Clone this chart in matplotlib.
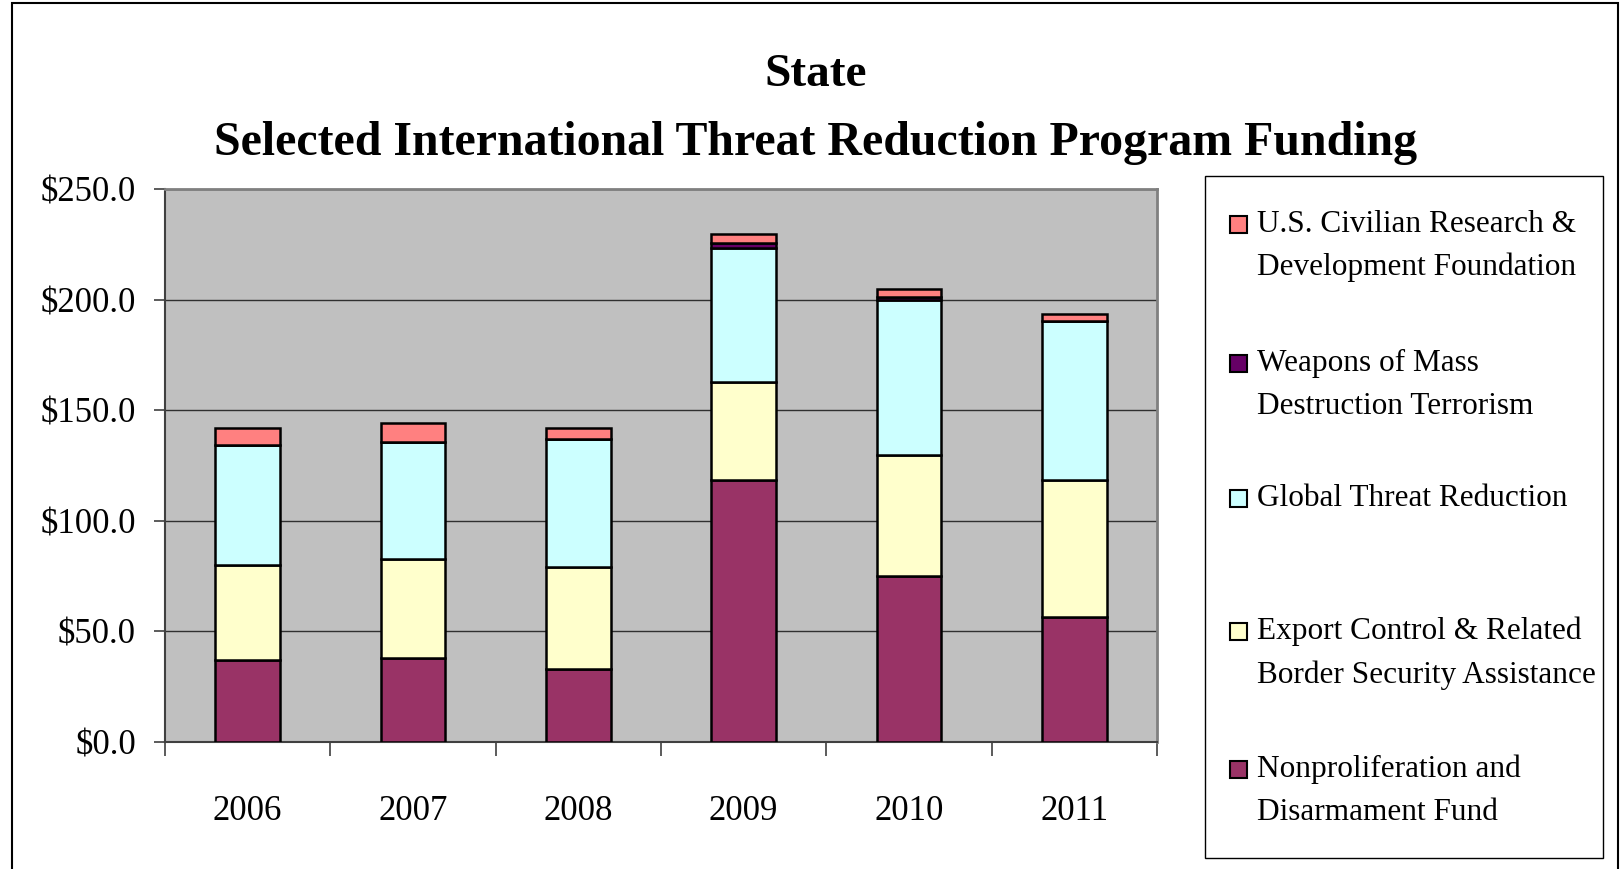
import matplotlib
matplotlib.use("Agg")
import matplotlib.pyplot as plt
from matplotlib.patches import Rectangle
import numpy as np

# ---- data (millions of $) ----
years = ["2006", "2007", "2008", "2009", "2010", "2011"]
ndf = [36.9, 38.2, 33.2, 118.4, 75.2, 56.6]
export_ctrl = [43.2, 44.4, 45.9, 44.4, 54.4, 61.8]
gtr = [54.2, 53.1, 57.8, 60.5, 70.0, 71.7]
wmd = [0.0, 0.0, 0.0, 2.5, 1.5, 0.0]
crdf = [7.7, 8.7, 5.1, 3.8, 3.7, 3.5]

series_labels = [
    "Nonproliferation and\nDisarmament Fund",
    "Export Control & Related\nBorder Security Assistance",
    "Global Threat Reduction",
    "Weapons of Mass\nDestruction Terrorism",
    "U.S. Civilian Research &\nDevelopment Foundation",
]
series_colors = ["#993366", "#FFFFCC", "#CCFFFF", "#660066", "#FF8080"]
yticks = [0, 50, 100, 150, 200, 250]

FONT = "Liberation Serif"
W, H = 1620, 869


def fx(x):
    return x / W


def fy(y):
    return 1 - y / H


fig = plt.figure(figsize=(W / 100, H / 100), dpi=100)
fig.patch.set_facecolor("white")

# outer frame
fig.patches.append(Rectangle((fx(12), fy(880)), fx(1606), 877 / H, transform=fig.transFigure,
                             fill=False, edgecolor="black", lw=1.5))

ax = fig.add_axes([fx(165), fy(742), fx(1157 - 165), (742 - 189) / H])
ax.set_facecolor("#C0C0C0")

x = np.arange(len(years))
data = [ndf, export_ctrl, gtr, wmd, crdf]
bottom = np.zeros(len(years))
for vals, col in zip(data, series_colors):
    vals = np.array(vals)
    ax.bar(x, vals, width=0.39, bottom=bottom, color=col, edgecolor="black", lw=1.8, zorder=3)
    bottom += vals

ax.set_xlim(-0.5, len(years) - 0.5)
ax.set_ylim(0, 250)
ax.set_yticks(yticks)
ax.set_yticklabels([f"${v:.1f}" for v in yticks], fontfamily=FONT, fontsize=25)
ax.yaxis.grid(True, color="#303030", lw=1.0, zorder=1)
ax.set_axisbelow(True)

# category ticks sit between bars, labels under each bar
ax.set_xticks(np.arange(len(years) + 1) - 0.5)
ax.set_xticklabels([])
ax.set_xticks(x, minor=True)
ax.set_xticklabels(years, minor=True, fontfamily=FONT, fontsize=25)
ax.tick_params(axis="x", which="major", length=10, width=1.2, color="#404040")
ax.tick_params(axis="x", which="minor", length=0, pad=38)
ax.tick_params(axis="y", length=8, width=1.2, color="#404040", pad=13)

for s in ["top", "right"]:
    ax.spines[s].set_color("#808080")
    ax.spines[s].set_linewidth(2)
ax.spines["left"].set_color("#404040")
ax.spines["bottom"].set_color("#404040")
ax.spines["left"].set_linewidth(1.5)
ax.spines["bottom"].set_linewidth(1.5)

# titles
fig.text(fx(816), fy(75), "State", ha="center", va="center",
         fontfamily=FONT, fontweight="bold", fontsize=34)
fig.text(fx(816), fy(143), "Selected International Threat Reduction Program Funding",
         ha="center", va="center", fontfamily=FONT, fontweight="bold", fontsize=34.5)

# legend box, drawn by hand to keep the Excel-like spacing
fig.patches.append(Rectangle((fx(1205), fy(858)), fx(1603 - 1205), (858 - 176) / H,
                             transform=fig.transFigure, facecolor="white",
                             edgecolor="black", lw=1.0))
entry_y = [224, 363, 498, 631, 769]  # first-line centres, top to bottom
for yy, lab, col in zip(entry_y, series_labels[::-1], series_colors[::-1]):
    fig.patches.append(Rectangle((fx(1230), fy(yy + 9)), fx(17), 17 / H,
                                 transform=fig.transFigure, facecolor=col,
                                 edgecolor="black", lw=1.5))
    fig.text(fx(1257), fy(yy - 14), lab, ha="left", va="top", fontfamily=FONT,
             fontsize=22.5, linespacing=1.62)

fig.savefig("out.png", dpi=100)
